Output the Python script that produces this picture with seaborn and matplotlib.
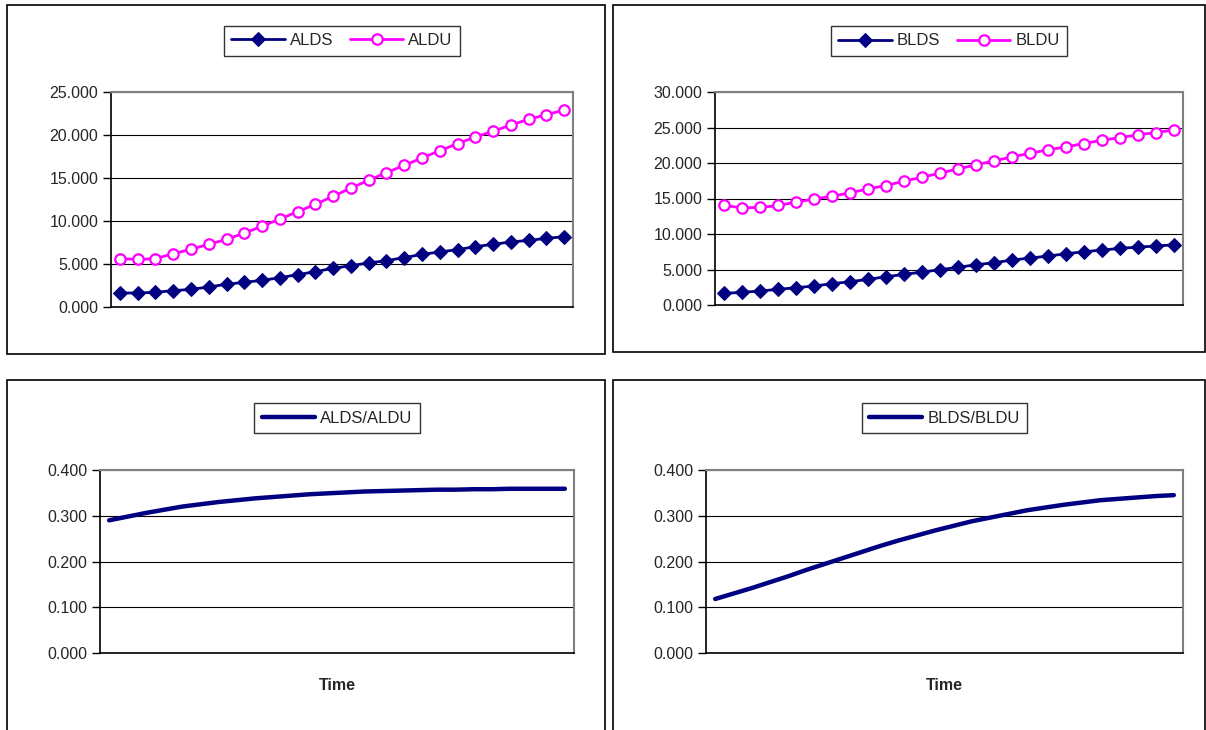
import numpy as np
import pandas as pd
import matplotlib
matplotlib.use("Agg")
import matplotlib.pyplot as plt
import seaborn as sns
from matplotlib.patches import Rectangle
from matplotlib.ticker import FormatStrFormatter

# data (26 time steps)
time = list(range(1, 27))

alds = [1.63, 1.63, 1.71, 1.90, 2.05, 2.33, 2.64, 2.87, 3.10, 3.41, 3.76, 4.11, 4.50,
        4.81, 5.12, 5.39, 5.74, 6.12, 6.40, 6.67, 7.02, 7.29, 7.56, 7.75, 7.98, 8.18]
aldu = [5.62, 5.54, 5.62, 6.20, 6.71, 7.29, 7.87, 8.60, 9.38, 10.23, 11.09, 11.94, 12.87,
        13.84, 14.73, 15.62, 16.47, 17.33, 18.18, 18.99, 19.77, 20.43, 21.16, 21.82, 22.36, 22.91]

blds = [1.64, 1.78, 1.97, 2.20, 2.44, 2.67, 3.00, 3.28, 3.61, 3.98, 4.31, 4.64, 4.97,
        5.30, 5.67, 5.95, 6.33, 6.61, 6.89, 7.22, 7.50, 7.74, 7.97, 8.16, 8.30, 8.49]
bldu = [14.02, 13.69, 13.74, 14.02, 14.49, 14.91, 15.33, 15.80, 16.36, 16.83, 17.44, 18.00, 18.57,
        19.17, 19.74, 20.30, 20.86, 21.38, 21.85, 22.27, 22.74, 23.21, 23.58, 23.96, 24.29, 24.66]

alds_aldu = [0.290, 0.298, 0.306, 0.313, 0.320, 0.325, 0.330, 0.334, 0.338, 0.341, 0.344, 0.347, 0.349,
             0.351, 0.353, 0.354, 0.355, 0.356, 0.357, 0.357, 0.358, 0.358, 0.359, 0.359, 0.359, 0.359]
blds_bldu = [0.118, 0.130, 0.142, 0.155, 0.168, 0.182, 0.195, 0.208, 0.221, 0.234, 0.246, 0.257, 0.268,
             0.278, 0.288, 0.296, 0.304, 0.312, 0.318, 0.324, 0.329, 0.334, 0.337, 0.340, 0.343, 0.345]

NAVY = '#000080'
MAGENTA = '#FF00FF'

sns.set_style("white")
plt.rcParams['font.family'] = ['Liberation Sans', 'DejaVu Sans']

fig = plt.figure(figsize=(12.06, 7.30), dpi=100)
W, H = 1206, 730


def frame(x0, y0, x1, y1):
    fig.patches.append(Rectangle((x0 / W, 1 - y1 / H), (x1 - x0) / W, (y1 - y0) / H,
                                 transform=fig.transFigure, fill=False, ec='black', lw=1.2))


def add_axes(x0, y0, x1, y1):
    return fig.add_axes([x0 / W, 1 - y1 / H, (x1 - x0) / W, (y1 - y0) / H])


def excel_style(ax, ymax, step):
    ax.set_xlim(0.5, 26.5)
    ax.set_ylim(0, ymax)
    ax.set_yticks(np.arange(0, ymax + step / 2, step))
    ax.yaxis.set_major_formatter(FormatStrFormatter('%.3f'))
    ax.set_xticks([])
    ax.set_axisbelow(True)
    ax.grid(axis='y', color='black', lw=0.8)
    ax.tick_params(axis='y', direction='out', length=6, width=1, color='black',
                   labelsize=11.5, pad=3, left=True)
    for s in ['left', 'bottom']:
        ax.spines[s].set_color('black')
        ax.spines[s].set_linewidth(1.2)
    for s in ['top', 'right']:
        ax.spines[s].set_color('#808080')
        ax.spines[s].set_linewidth(1.5)
    ax.set_xlabel('')
    ax.set_ylabel('')


def excel_legend(ax, y, ncol):
    leg = ax.legend(loc='center', bbox_to_anchor=(0.5, y), ncol=ncol, frameon=True,
                    fancybox=False, shadow=False, fontsize=12, handlelength=3.2,
                    handletextpad=0.3, columnspacing=1.0, borderpad=0.45,
                    borderaxespad=0)
    leg.get_frame().set_edgecolor('black')
    leg.get_frame().set_linewidth(1)


frame(7, 5, 605, 354)
frame(613, 5, 1205, 352)
frame(7, 380, 605, 740)
frame(613, 380, 1205, 740)

# top left
ax = add_axes(111, 92, 573, 307)
sns.lineplot(x=time, y=alds, ax=ax, color=NAVY, lw=2, marker='D', markersize=7,
             markeredgecolor=NAVY, label='ALDS')
sns.lineplot(x=time, y=aldu, ax=ax, color=MAGENTA, lw=2, marker='o', markersize=7.5,
             markerfacecolor='white', markeredgecolor=MAGENTA, markeredgewidth=1.6, label='ALDU')
excel_style(ax, 25, 5)
excel_legend(ax, 1.238, 2)

# top right
ax = add_axes(715, 92, 1183, 305)
sns.lineplot(x=time, y=blds, ax=ax, color=NAVY, lw=2, marker='D', markersize=7,
             markeredgecolor=NAVY, label='BLDS')
sns.lineplot(x=time, y=bldu, ax=ax, color=MAGENTA, lw=2, marker='o', markersize=7.5,
             markerfacecolor='white', markeredgecolor=MAGENTA, markeredgewidth=1.6, label='BLDU')
excel_style(ax, 30, 5)
excel_legend(ax, 1.24, 2)

# bottom left
ax = add_axes(100, 470, 574, 653)
sns.lineplot(x=time, y=alds_aldu, ax=ax, color=NAVY, lw=3.2, label='ALDS/ALDU')
excel_style(ax, 0.4, 0.1)
excel_legend(ax, 1.284, 1)
ax.set_xlabel('Time', fontweight='bold', fontsize=11.5, labelpad=18)

# bottom right
ax = add_axes(706, 470, 1183, 653)
sns.lineplot(x=time, y=blds_bldu, ax=ax, color=NAVY, lw=3.2, label='BLDS/BLDU')
excel_style(ax, 0.4, 0.1)
excel_legend(ax, 1.284, 1)
ax.set_xlabel('Time', fontweight='bold', fontsize=11.5, labelpad=18)

fig.savefig('out.png', dpi=100)
